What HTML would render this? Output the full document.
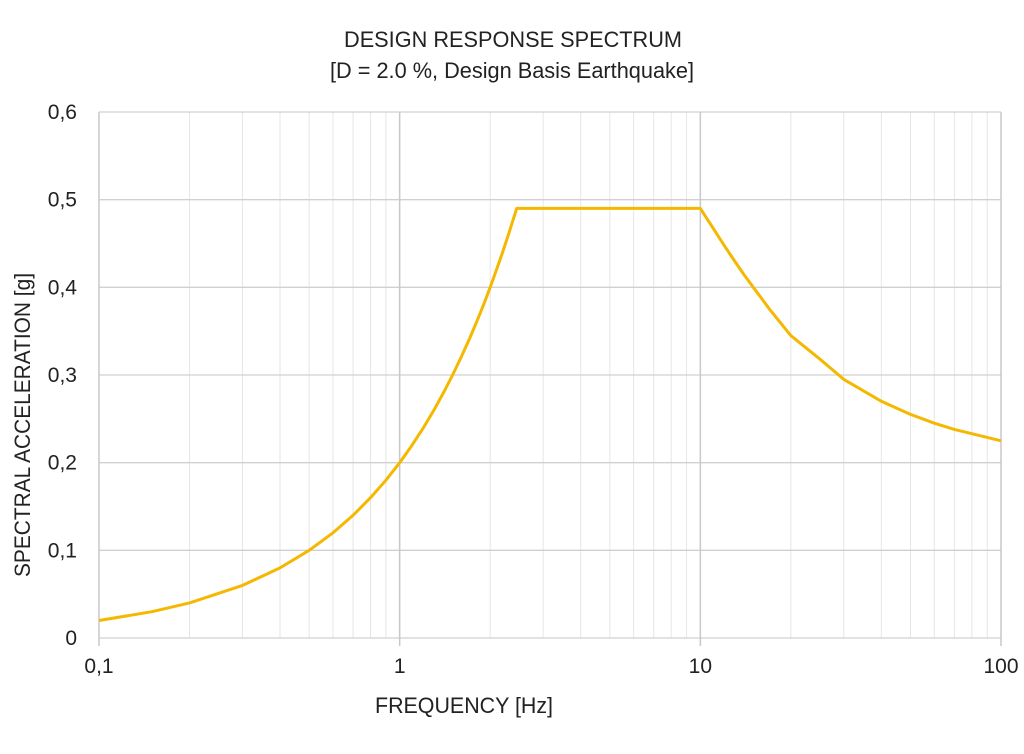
<!DOCTYPE html>
<html><head><meta charset="utf-8"><style>
body{margin:0;background:#fff;}
svg text{font-family:"Liberation Sans",sans-serif;fill:#222;}
</style></head><body>
<svg id="chart" width="1024" height="749" xmlns="http://www.w3.org/2000/svg">
<text x="513" y="47" font-size="22" text-anchor="middle" textLength="338" lengthAdjust="spacingAndGlyphs">DESIGN RESPONSE SPECTRUM</text>
<text x="512" y="78" font-size="22" text-anchor="middle" textLength="364" lengthAdjust="spacingAndGlyphs">[D = 2.0 %, Design Basis Earthquake]</text>
<g id="grid"></g>
<g id="ticks"></g>
<text x="464" y="713" font-size="22" text-anchor="middle" textLength="178" lengthAdjust="spacingAndGlyphs">FREQUENCY [Hz]</text>
<text transform="translate(30,425) rotate(-90)" font-size="22" text-anchor="middle" textLength="304" lengthAdjust="spacingAndGlyphs">SPECTRAL ACCELERATION [g]</text>
</svg>
<script>
const freqs=[0.1,0.15,0.2,0.3,0.4,0.5,0.6,0.7,0.8,0.9,1,1.1,1.2,1.3,1.4,1.5,1.6,1.7,1.8,1.9,2,2.1,2.2,2.3,2.45,10,11,12,13,14,15,17,20,25,30,40,50,60,70,80,100];
const accel=[0.02,0.03,0.04,0.06,0.08,0.1,0.12,0.14,0.16,0.18,0.2,0.22,0.24,0.26,0.28,0.3,0.32,0.34,0.36,0.38,0.4,0.42,0.44,0.46,0.49,0.49,0.468,0.448,0.43,0.414,0.40,0.375,0.345,0.318,0.295,0.27,0.255,0.245,0.238,0.233,0.225];
const yTicks=[0,0.1,0.2,0.3,0.4,0.5,0.6];
const yTickLabels=["0","0,1","0,2","0,3","0,4","0,5","0,6"];
const xTicks=[0.1,1,10,100];
const xTickLabels=["0,1","1","10","100"];
const X0=99,X1=1001,Y0=638,Y1=112;
const xs=f=>X0+(Math.log10(f)+1)/3*(X1-X0);
const ys=v=>Y0-v/0.6*(Y0-Y1);
const NS="http://www.w3.org/2000/svg";
const svg=document.getElementById('chart');
const grid=document.getElementById('grid'),ticks=document.getElementById('ticks');
function mk(t,a,p){const e=document.createElementNS(NS,t);for(const k in a)e.setAttribute(k,a[k]);p.appendChild(e);return e;}
for(let d=-1;d<2;d++)for(let m=2;m<10;m++){const x=xs(m*Math.pow(10,d));
const l=mk('line',{x1:x,x2:x,y1:Y1,y2:Y0,stroke:'#e6e6e6','stroke-width':1},grid);

}
yTicks.forEach((v,i)=>{const y=ys(v);
const l=mk('line',{x1:X0,x2:X1,y1:y,y2:y,stroke:'#d0d0d0','stroke-width':1.3},grid);


const t=mk('text',{x:77,y:y+7,'font-size':21,'text-anchor':'end'},ticks);t.textContent=yTickLabels[i];

});
xTicks.forEach((f,i)=>{const x=xs(f);
const l=mk('line',{x1:x,x2:x,y1:Y1,y2:Y0+8,stroke:'#c8c8c8','stroke-width':1.5},grid);


const t=mk('text',{x:x,y:673,'font-size':21,'text-anchor':'middle'},ticks);t.textContent=xTickLabels[i];

});
const pts=freqs.map((f,i)=>xs(f).toFixed(1)+','+ys(accel[i]).toFixed(1)).join(' ');
const pl=mk('polyline',{points:pts,fill:'none',stroke:'#f5b800','stroke-width':3,'stroke-linejoin':'round'},svg);


</script>
</body></html>
